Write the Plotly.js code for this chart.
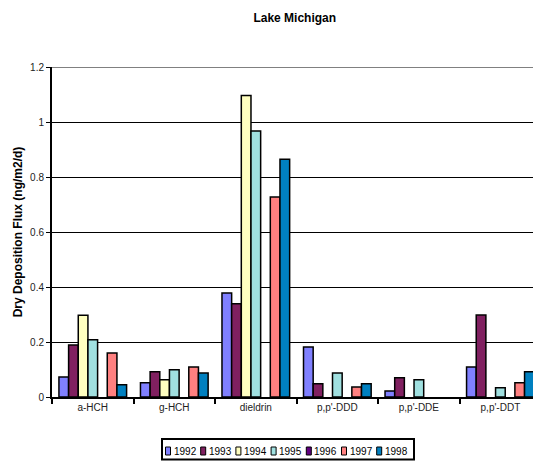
<!DOCTYPE html>
<html><head><meta charset="utf-8">
<script src="https://cdn.plot.ly/plotly-3.0.1.min.js"></script>
<style>html,body{margin:0;padding:0;background:#fff;overflow:hidden}</style>
</head><body><div id="chart" style="width:533px;height:461px"></div>
<script>
const categories = ["a-HCH", "g-HCH", "dieldrin", "p,p'-DDD", "p,p'-DDE", "p,p'-DDT"];
const years = ["1992", "1993", "1994", "1995", "1996", "1997", "1998"];
const v1992 = [0.073, 0.052, 0.378, 0.182, 0.022, 0.109];
const v1993 = [0.189, 0.092, 0.339, 0.048, 0.070, 0.298];
const v1994 = [0.297, 0.063, 1.096, null, null, null];
const v1995 = [0.208, 0.099, 0.967, 0.087, 0.063, 0.034];
const v1996 = [null, null, null, null, null, null];
const v1997 = [0.160, 0.109, 0.727, 0.036, null, 0.052];
const v1998 = [0.045, 0.087, 0.865, 0.048, null, 0.092];
const series = [v1992, v1993, v1994, v1995, v1996, v1997, v1998];
const colors = ["#8080FF", "#802060", "#FFFFC0", "#A0E0E0", "#600080", "#FF8080", "#0080C0"];

const font = "Arial, 'Liberation Sans', sans-serif";
const traces = series.map((vals, i) => ({
  type: "bar",
  name: years[i],
  x: categories,
  y: vals,
  marker: {color: colors[i], line: {color: "#000", width: 1.5}},
  hoverinfo: "none"
}));

// Plot area geometry (pixels) used to place the custom legend box
const W = 533, H = 461, L = 52, R = 0, T = 67, B = 64;
const pw = W - L - R, ph = H - T - B;
const px = x => (x - L) / pw;
const py = y => (H - B - y) / ph;

const shapes = [
  {type: "line", xref: "paper", yref: "y", x0: 0, x1: 1, y0: 1.2, y1: 1.2, line: {color: "#808080", width: 2}},
  {type: "rect", xref: "paper", yref: "paper", x0: px(162), x1: px(414), y0: py(439), y1: py(459.5), line: {color: "#000", width: 2}, fillcolor: "rgba(0,0,0,0)"}
];
const annotations = [];
years.forEach((yr, i) => {
  const x0 = 165.5 + 35.2 * i;
  shapes.push({type: "rect", xref: "paper", yref: "paper", x0: px(x0), x1: px(x0 + 5), y0: py(447), y1: py(455),
    line: {color: "#000", width: 1}, fillcolor: colors[i]});
  annotations.push({xref: "paper", yref: "paper", x: px(x0 + 6), y: py(451), xanchor: "left", yanchor: "middle",
    text: yr, showarrow: false, font: {family: font, size: 10, color: "#000"}});
});

const layout = {
  width: W, height: H,
  margin: {l: L, r: R, t: T, b: B},
  paper_bgcolor: "#fff", plot_bgcolor: "#fff",
  font: {family: font, size: 10, color: "#222"},
  title: {text: "<b>Lake Michigan</b>", font: {family: font, size: 12, color: "#000"}, x: 0.553, xanchor: "center", y: 0.962, yanchor: "middle"},
  barmode: "group",
  bargap: 0.17,
  bargroupgap: 0,
  showlegend: false,
  xaxis: {
    type: "category", range: [-0.5, 5.4],
    showgrid: false, showline: true, linecolor: "#000", linewidth: 2,
    ticks: "outside", tickson: "boundaries", ticklen: 5, tickcolor: "#000", tickwidth: 2,
    tickfont: {family: font, size: 10, color: "#222"}, fixedrange: true
  },
  yaxis: {
    range: [0, 1.2], dtick: 0.2,
    showgrid: true, gridcolor: "#000", gridwidth: 1,
    showline: true, linecolor: "#000", linewidth: 2,
    ticks: "outside", ticklen: 4, tickcolor: "#000",
    zeroline: false,
    tickfont: {family: font, size: 10, color: "#222"},
    title: {text: "<b>Dry Deposition Flux (ng/m2/d)</b>", font: {family: font, size: 12, color: "#000"}, standoff: 5},
    fixedrange: true
  },
  shapes: shapes,
  annotations: annotations
};
Plotly.newPlot("chart", traces, layout, {displayModeBar: false, staticPlot: true});
</script></body></html>
